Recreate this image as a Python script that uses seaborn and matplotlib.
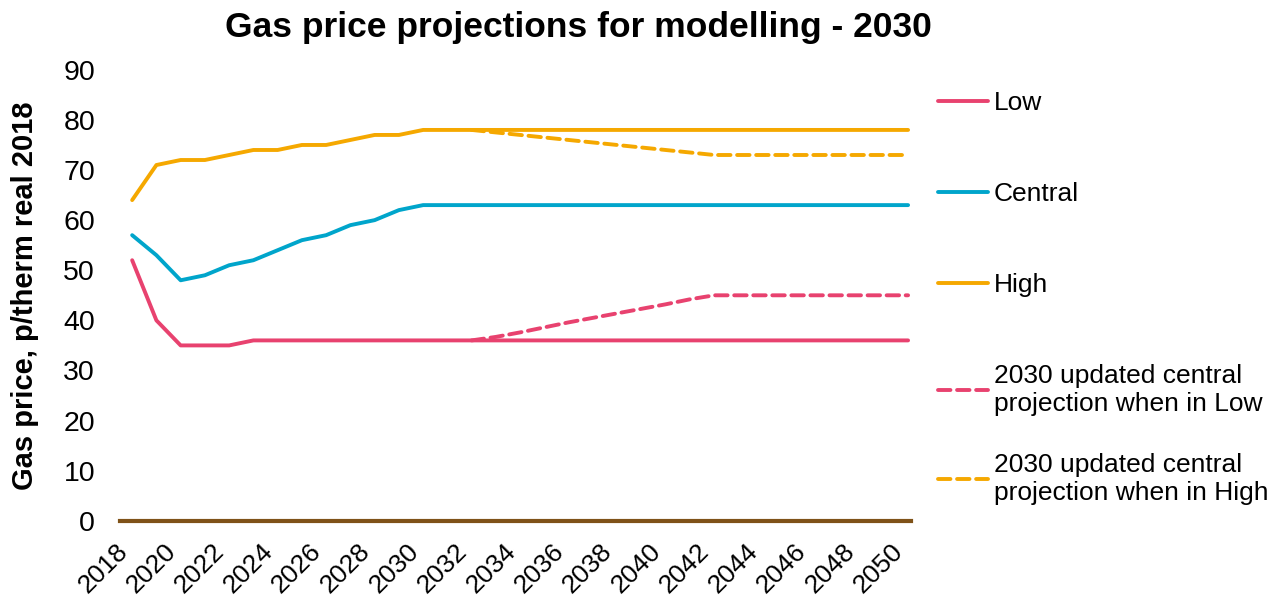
import numpy as np
import pandas as pd
import matplotlib
matplotlib.use("Agg")
import matplotlib.pyplot as plt
import seaborn as sns

years = list(range(2018, 2051))
low = [52, 40, 35, 35, 35, 36, 36, 36, 36, 36, 36, 36, 36] + [36] * 20
central = [57, 53, 48, 49, 51, 52, 54, 56, 57, 59, 60, 62, 63] + [63] * 20
high = [64, 71, 72, 72, 73, 74, 74, 75, 75, 76, 77, 77, 78] + [78] * 20

upd_years = list(range(2032, 2051))
upd_low = [36, 36.7, 37.6, 38.6, 39.6, 40.5, 41.4, 42.3, 43.2, 44.2, 45] + [45] * 8
upd_high = [78, 77.5, 77, 76.5, 76, 75.5, 75, 74.5, 74, 73.5, 73] + [73] * 8

labels = ["Low", "Central", "High",
          "2030 updated central\nprojection when in Low",
          "2030 updated central\nprojection when in High"]
colors = ["#E8426F", "#00A5CB", "#F5A800", "#E8426F", "#F5A800"]

sns.set_style("white")
plt.rcParams["font.family"] = ["Liberation Sans", "DejaVu Sans"]
plt.rcParams["text.color"] = "black"
plt.rcParams["axes.labelcolor"] = "black"
plt.rcParams["xtick.color"] = "black"
plt.rcParams["ytick.color"] = "black"

fig = plt.figure(figsize=(12.77, 6.07), dpi=100)
ax = fig.add_axes([0.094, 0.142, 0.619, 0.743])

series = [(years, low), (years, central), (years, high), (upd_years, upd_low), (upd_years, upd_high)]
for i, ((xs, ys), lab, col) in enumerate(zip(series, labels, colors)):
    df = pd.DataFrame({"year": xs, "value": ys})
    ls = "-" if i < 3 else "--"
    sns.lineplot(data=df, x="year", y="value", ax=ax, color=col, linewidth=2.8,
                 label=lab, linestyle=ls)
for l in ax.lines[3:5]:
    l.set_dashes((3.2, 1.7))
    l.set_dash_capstyle("round")
for l in ax.lines:
    l.set_solid_capstyle("round")

ax.set_xlim(2017.5, 2050.1)
ax.set_ylim(0, 90)
ax.set_yticks(range(0, 91, 10))
ax.set_xticks(range(2018, 2051, 2))
ax.set_xticklabels([str(y) for y in range(2018, 2051, 2)], rotation=45, ha="right",
                   rotation_mode="default", fontsize=19)
ax.tick_params(axis="y", labelsize=20.5, length=0, pad=18)
ax.tick_params(axis="x", length=0, pad=13)
for s in ["top", "right", "left"]:
    ax.spines[s].set_visible(False)
ax.spines["bottom"].set_color("#7F5218")
ax.spines["bottom"].set_linewidth(3)
ax.set_xlabel("")
ax.set_ylabel("Gas price, p/therm real 2018", fontsize=21, fontweight="bold")
ax.yaxis.set_label_coords(-0.103, 0.50)

fig.text(0.453, 0.955, "Gas price projections for modelling - 2030", fontsize=25.5,
         fontweight="bold", ha="center", va="center")

handles, labs = ax.get_legend_handles_labels()
leg_kw = dict(loc="upper left", frameon=False, fontsize=19, handlelength=1.9,
              handletextpad=0.2, labelspacing=2.53, borderaxespad=0, borderpad=0)
leg1 = ax.legend(handles[:4], labs[:4], bbox_to_anchor=(1.035, 0.952), **leg_kw)
ax.add_artist(leg1)
leg2 = ax.legend(handles[4:], labs[4:], bbox_to_anchor=(1.035, 0.150), **leg_kw)

fig.savefig("out.png", dpi=100)
